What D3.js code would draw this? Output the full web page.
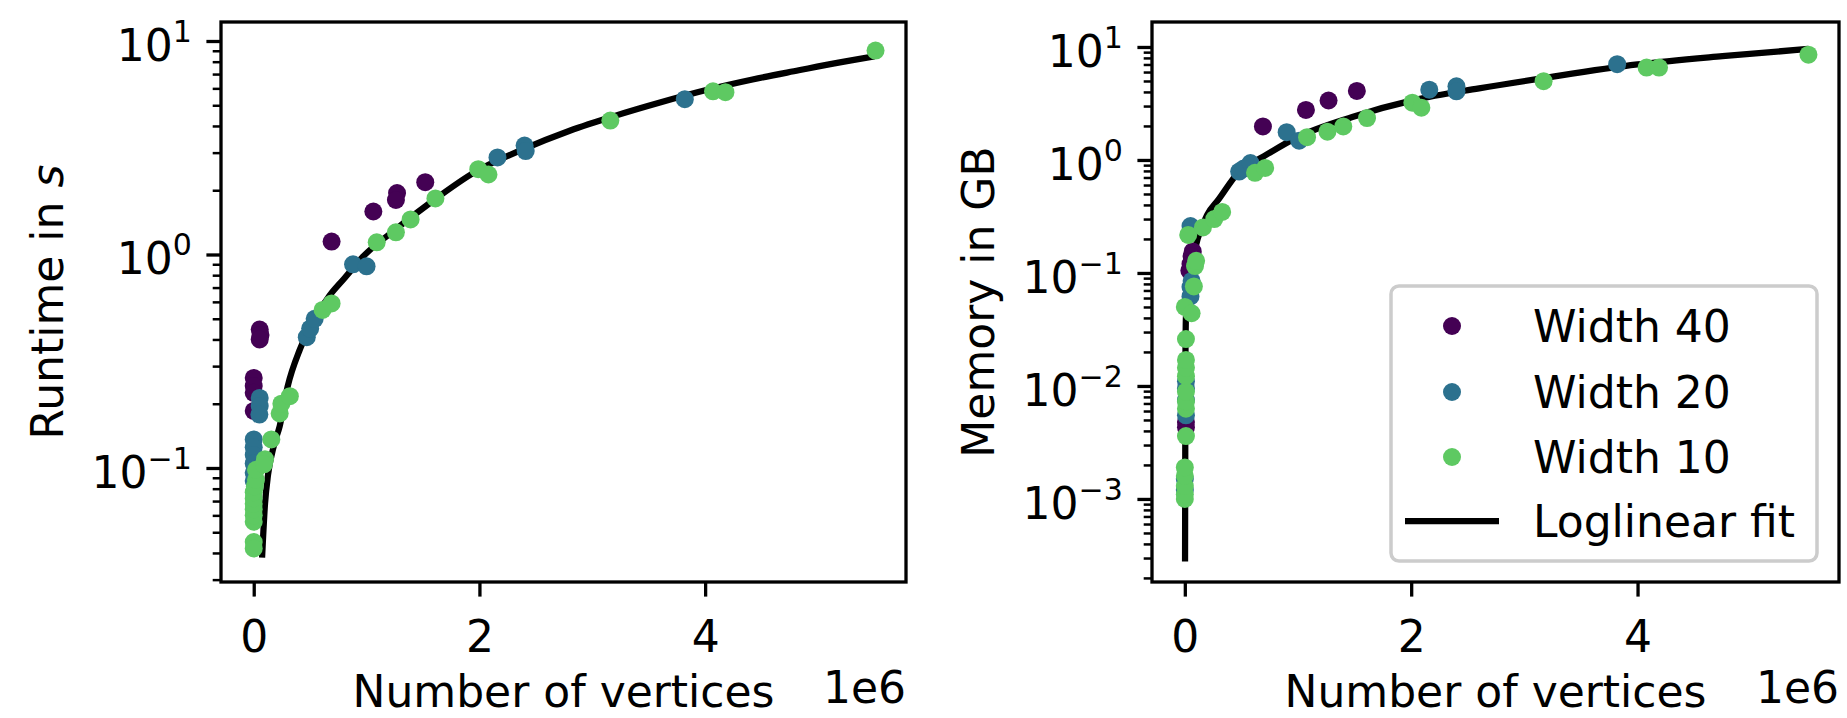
<!DOCTYPE html>
<meta charset="utf-8">
<script src="https://d3js.org/d3.v7.min.js"></script>
<style>
  body { margin: 0; background: #fff; }
  text { font-family: "DejaVu Sans", sans-serif; fill: #000; }
</style>
<div id="my_dataviz"></div>
<script>

// x values in millions of vertices, y in seconds / GB
var runtime40 = [[0.053,0.445],[0.06,0.42],[0.053,0.40],[0.0,0.264],[0.0,0.242],[0.0,0.225],[0.0,0.185],
  [0.69,1.15],[1.06,1.59],[1.27,1.94],[1.26,1.80],[1.52,2.18]];
var runtime20 = [[0.053,0.213],[0.053,0.195],[0.05,0.178],[0.0,0.136],[0.0,0.125],[0.0,0.115],[0.0,0.105],
  [0.0,0.095],[0.0,0.087],[0.47,0.41],[0.5,0.45],[0.54,0.50],[0.88,0.90],[1.0,0.88],[2.16,2.85],
  [2.40,3.24],[2.41,3.05],[3.82,5.34]];
var runtime10 = [[0.0,0.045],[0.0,0.042],[0.0,0.056],[0.0,0.06],[0.0,0.064],[0.0,0.068],[0.0,0.072],
  [0.0,0.077],[0.01,0.082],[0.02,0.088],[0.02,0.098],[0.1,0.11],[0.09,0.104],[0.156,0.136],[0.23,0.18],
  [0.245,0.20],[0.32,0.217],[0.61,0.55],[0.69,0.59],[1.09,1.14],[1.26,1.27],[1.39,1.46],[1.61,1.83],
  [1.99,2.51],[2.08,2.37],[3.16,4.24],[4.07,5.81],[4.18,5.76],[5.51,9.02]];
var runtimeFit = [[0.074,0.038],[0.1,0.068],[0.127,0.093],[0.18,0.128],[0.23,0.157],[0.3,0.24],[0.41,0.36],
  [0.54,0.5],[0.67,0.64],[0.8,0.77],[0.97,0.98],[1.24,1.29],[1.56,1.74],[1.97,2.45],[2.38,3.10],[2.8,3.8],
  [3.2,4.46],[3.6,5.15],[4.01,5.89],[4.42,6.6],[4.83,7.29],[5.17,7.9],[5.50,8.47]];

var memory40 = [[0.07,0.155],[0.06,0.14],[0.05,0.12],[0.04,0.105],[0.01,0.0048],[0.01,0.0043],
  [0.69,1.98],[1.07,2.77],[1.27,3.36],[1.52,4.08]];
var memory20 = [[0.05,0.26],[0.06,0.085],[0.05,0.075],[0.05,0.062],[0.01,0.011],[0.01,0.0095],[0.01,0.0075],
  [0.01,0.0055],[0.0,0.0015],[0.0,0.0012],[0.48,0.79],[0.52,0.84],[0.58,0.94],[0.90,1.76],[1.01,1.48],
  [2.16,4.19],[2.40,4.49],[2.40,4.05],[3.82,7.05]];
var memory10 = [[0.0,0.001],[0.0,0.0011],[0.0,0.0013],[0.0,0.0016],[0.0,0.0019],[0.01,0.0036],[0.01,0.0063],
  [0.01,0.0073],[0.01,0.0089],[0.01,0.0122],[0.01,0.0145],[0.01,0.017],[0.01,0.026],[0.0,0.05],[0.06,0.044],
  [0.08,0.076],[0.09,0.115],[0.1,0.128],[0.03,0.217],[0.16,0.253],[0.26,0.30],[0.33,0.347],[0.62,0.77],
  [0.71,0.85],[1.08,1.59],[1.26,1.78],[1.40,1.98],[1.61,2.35],[2.01,3.21],[2.09,2.90],[3.17,4.98],
  [4.08,6.57],[4.19,6.57],[5.51,8.55]];
var memoryFit = [[0.002,0.00028],[0.004,0.003],[0.006,0.02],[0.01,0.041],[0.04,0.087],[0.095,0.17],
  [0.2,0.33],[0.3,0.45],[0.47,0.77],[0.7,1.08],[1.0,1.6],[1.48,2.4],[2.03,3.4],[2.6,4.3],[3.17,5.3],
  [4.0,7.0],[4.75,8.3],[5.51,9.6]];

var seriesNames = ["Width 40", "Width 20", "Width 10"];
var fitName = "Loglinear fit";
var xTicks = [0, 2, 4];
var colors = ["#440154", "#2c718e", "#5ec962"];

var svg = d3.select("#my_dataviz")
  .append("svg")
    .attr("width", 1847)
    .attr("height", 718);

var top_ = 22, bottom_ = 582;
var fontSize = 44, supSize = 30;
var majorLen = 14.6, minorLen = 8.3, pad = 14.6, spineW = 3.3;

var panels = [
  { left: 221, right: 906, logMin: -1.534, logMax: 1.089,
    series: [runtime40, runtime20, runtime10], fit: runtimeFit,
    label: ["Runtime in ", "s"], labelX: 63, legend: false },
  { left: 1152, right: 1839, logMin: -3.735, logMax: 1.221,
    series: [memory40, memory20, memory10], fit: memoryFit,
    label: ["Memory in GB", ""], labelX: 994, legend: true }
];

panels.forEach(function(p) {
  var x = d3.scaleLinear().domain([-0.29, 5.78]).range([p.left, p.right]);
  var y = d3.scaleLog().domain([Math.pow(10, p.logMin), Math.pow(10, p.logMax)]).range([bottom_, top_]);

  // fit line (drawn under the points)
  svg.append("path")
    .datum(p.fit)
    .attr("d", d3.line()
      .x(function(d) { return x(d[0]); })
      .y(function(d) { return y(d[1]); })
      .curve(d3.curveMonotoneX))
    .attr("fill", "none")
    .attr("stroke", "#000")
    .attr("stroke-width", 6.25);

  // scatter points: width 40 first, width 10 on top
  p.series.forEach(function(s, i) {
    svg.append("g").selectAll("circle")
      .data(s)
      .enter()
      .append("circle")
        .attr("cx", function(d) { return x(d[0]); })
        .attr("cy", function(d) { return y(d[1]); })
        .attr("r", 9)
        .attr("fill", colors[i]);
  });

  // spines
  svg.append("rect")
    .attr("x", p.left).attr("y", top_)
    .attr("width", p.right - p.left).attr("height", bottom_ - top_)
    .attr("fill", "none").attr("stroke", "#000").attr("stroke-width", spineW);

  // x axis
  var gx = svg.append("g")
    .attr("transform", "translate(0," + bottom_ + ")")
    .call(d3.axisBottom(x).tickValues(xTicks).tickSize(majorLen).tickPadding(pad + 10).tickFormat(d3.format("d")));
  gx.select(".domain").remove();
  gx.selectAll("line").attr("stroke-width", spineW);
  gx.selectAll("text").style("font-size", fontSize + "px").attr("font-family", null);

  svg.append("text")
    .attr("x", (p.left + p.right) / 2).attr("y", 707)
    .attr("text-anchor", "middle")
    .style("font-size", fontSize + "px")
    .text("Number of vertices");
  svg.append("text")
    .attr("x", p.right).attr("y", 703)
    .attr("text-anchor", "end")
    .style("font-size", fontSize + "px")
    .text("1e6");

  // y axis: decades and minor ticks
  var majors = [], minors = [];
  for (var e = Math.floor(p.logMin); e <= Math.ceil(p.logMax); e++) {
    var v = Math.pow(10, e);
    if (e >= p.logMin && e <= p.logMax) majors.push(e);
    for (var k = 2; k <= 9; k++) {
      var lv = Math.log10(k * v);
      if (lv >= p.logMin && lv <= p.logMax) minors.push(k * v);
    }
  }
  var gyMinor = svg.append("g")
    .attr("transform", "translate(" + p.left + ",0)")
    .call(d3.axisLeft(y).tickValues(minors).tickSize(minorLen).tickFormat(""));
  gyMinor.select(".domain").remove();
  gyMinor.selectAll("line").attr("stroke-width", 2.5);

  var gyMajor = svg.append("g")
    .attr("transform", "translate(" + p.left + ",0)")
    .call(d3.axisLeft(y).tickValues(majors.map(function(e) { return Math.pow(10, e); })).tickSize(majorLen).tickFormat(""));
  gyMajor.select(".domain").remove();
  gyMajor.selectAll("line").attr("stroke-width", spineW);

  majors.forEach(function(e) {
    var t = svg.append("text")
      .attr("x", p.left - majorLen - pad)
      .attr("y", y(Math.pow(10, e)) + 20)
      .attr("text-anchor", "end")
      .style("font-size", fontSize + "px");
    t.append("tspan").text("10");
    t.append("tspan")
      .attr("dy", -19)
      .style("font-size", supSize + "px")
      .text(e < 0 ? "\u2212" + (-e) : String(e));
  });

  // y label
  var yl = svg.append("text")
    .attr("transform", "translate(" + p.labelX + "," + ((top_ + bottom_) / 2) + ") rotate(-90)")
    .attr("text-anchor", "middle")
    .style("font-size", fontSize + "px")
    .style("white-space", "pre");
  yl.append("tspan").text(p.label[0]);
  if (p.label[1]) yl.append("tspan").style("font-style", "italic").text(p.label[1]);

  // legend
  if (p.legend) {
    var lg = svg.append("g");
    lg.append("rect")
      .attr("x", 1391).attr("y", 286).attr("width", 426).attr("height", 275)
      .attr("rx", 8).attr("ry", 8)
      .attr("fill", "#fff").attr("fill-opacity", 0.8)
      .attr("stroke", "#cccccc").attr("stroke-width", 3.5);
    var rowY = [326, 392, 457, 521];
    seriesNames.forEach(function(name, i) {
      lg.append("circle").attr("cx", 1452).attr("cy", rowY[i]).attr("r", 9).attr("fill", colors[i]);
      lg.append("text").attr("x", 1533).attr("y", rowY[i] + 16)
        .style("font-size", fontSize + "px").text(name);
    });
    lg.append("line")
      .attr("x1", 1405).attr("x2", 1499).attr("y1", rowY[3]).attr("y2", rowY[3])
      .attr("stroke", "#000").attr("stroke-width", 6.25);
    lg.append("text").attr("x", 1533).attr("y", rowY[3] + 16)
      .style("font-size", fontSize + "px").text(fitName);
  }
});

</script>
